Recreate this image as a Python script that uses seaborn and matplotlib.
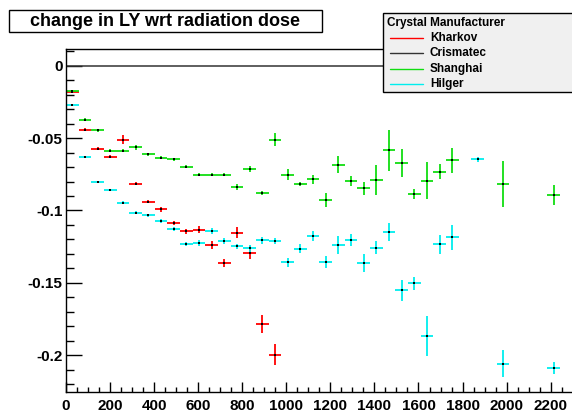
import numpy as np
import pandas as pd
import matplotlib
matplotlib.use("Agg")
import matplotlib.pyplot as plt
from matplotlib.patches import Rectangle
from matplotlib.lines import Line2D
from matplotlib.ticker import MultipleLocator, FixedLocator, FuncFormatter
import seaborn as sns

# ---------------- data ----------------
bin_width = 57.5
n_bins = 40
bin_centers = [bin_width * (i + 0.5) for i in range(n_bins)]

kharkov_bins = list(range(0, 17))
kharkov_vals = [-0.018, -0.0443, -0.0575, -0.0628, -0.051, -0.0816, -0.0938, -0.0993,
                -0.1085, -0.1145, -0.1133, -0.1239, -0.1363, -0.1152, -0.129, -0.1784, -0.1995]
kharkov_errs = [0.001, 0.001, 0.001, 0.001, 0.003, 0.001, 0.001, 0.002,
                0.0015, 0.002, 0.0023, 0.0027, 0.003, 0.0035, 0.0043, 0.0065, 0.0075]

crismatec_bins = list(range(0, 40))
crismatec_vals = [0.0] * 40
crismatec_errs = [0.0] * 40

shanghai_bins = list(range(0, 31)) + [34, 38]
shanghai_vals = [-0.0175, -0.0374, -0.0446, -0.0586, -0.0586, -0.0565, -0.0611, -0.0637,
                 -0.0648, -0.0697, -0.0754, -0.0754, -0.0754, -0.0839, -0.0712, -0.088,
                 -0.0512, -0.0752, -0.0816, -0.0784, -0.0929, -0.0683, -0.0798, -0.0846,
                 -0.0788, -0.0584, -0.0673, -0.0887, -0.0793, -0.0731, -0.0653,
                 -0.0818, -0.0892]
shanghai_errs = [0.001, 0.001, 0.001, 0.001, 0.001, 0.0018, 0.001, 0.001,
                 0.001, 0.001, 0.001, 0.001, 0.001, 0.002, 0.002, 0.0015,
                 0.0044, 0.0035, 0.0015, 0.003, 0.005, 0.006, 0.0035, 0.0045,
                 0.0105, 0.0143, 0.0097, 0.0037, 0.0131, 0.0053, 0.0085,
                 0.016, 0.007]

hilger_bins = list(range(0, 31)) + [32, 34, 38]
hilger_vals = [-0.0273, -0.0628, -0.0804, -0.086, -0.0947, -0.1014, -0.1034, -0.1073,
               -0.1128, -0.1232, -0.1223, -0.114, -0.1211, -0.1248, -0.1262, -0.1207,
               -0.1209, -0.1357, -0.1264, -0.1179, -0.1356, -0.1239, -0.1202, -0.1363,
               -0.1257, -0.1149, -0.1552, -0.1503, -0.1866, -0.1234, -0.1184,
               -0.0648, -0.2057, -0.2087]
hilger_errs = [0.0005, 0.0005, 0.0005, 0.0005, 0.001, 0.001, 0.001, 0.0015,
               0.0015, 0.0015, 0.002, 0.002, 0.002, 0.002, 0.0025, 0.0025,
               0.002, 0.003, 0.003, 0.0035, 0.004, 0.0064, 0.004, 0.0065,
               0.0045, 0.0065, 0.0075, 0.0046, 0.014, 0.0065, 0.0087,
               0.002, 0.0092, 0.0041]

series_names = ["Kharkov", "Crismatec", "Shanghai", "Hilger"]
series_colors = ["#ff0000", "#333333", "#11dd11", "#00eeee"]

x_ticks = list(range(0, 2201, 200))
y_ticks = [0, -0.05, -0.1, -0.15, -0.2]

# build long table
rows = []
for name, b, v, e in [("Kharkov", kharkov_bins, kharkov_vals, kharkov_errs),
                      ("Crismatec", crismatec_bins, crismatec_vals, crismatec_errs),
                      ("Shanghai", shanghai_bins, shanghai_vals, shanghai_errs),
                      ("Hilger", hilger_bins, hilger_vals, hilger_errs)]:
    for bi, vi, ei in zip(b, v, e):
        rows.append({"series": name, "dose": bin_centers[bi], "value": vi, "err": ei})
df = pd.DataFrame(rows)

# ---------------- plotting ----------------
sns.set_theme(style="white")
plt.rcParams['font.family'] = ['Liberation Sans', 'DejaVu Sans']
plt.rcParams['axes.unicode_minus'] = False

W, H = 572, 415
fig = plt.figure(figsize=(W / 100, H / 100), dpi=100)
fig.patch.set_facecolor("white")

def fx(px):
    return px / W

def fy(py):
    return 1 - py / H

left, right, top, bottom = 66, 572.7, 49.4, 392.3
ax = fig.add_axes([fx(left), fy(bottom), fx(right) - fx(left), fy(top) - fy(bottom)])
ax.set_facecolor("white")

for name, col in zip(series_names, series_colors):
    d = df[df.series == name]
    lw = 1.1 if name == "Crismatec" else 1.3
    ax.errorbar(d["dose"], d["value"], xerr=bin_width / 2, yerr=d["err"],
                fmt="none", ecolor=col, elinewidth=lw, capsize=0, zorder=2)

sns.scatterplot(data=df[df.series != "Crismatec"], x="dose", y="value", ax=ax,
                color="black", marker="s", s=1.2, linewidth=0, zorder=3, legend=False)

ax.set_xlim(0, 2300)
ax.set_ylim(-0.2255, 0.0112)
ax.set_xlabel("")
ax.set_ylabel("")

ax.xaxis.set_major_locator(FixedLocator(x_ticks))
ax.xaxis.set_minor_locator(MultipleLocator(50))
ax.yaxis.set_major_locator(FixedLocator(y_ticks))
ax.yaxis.set_minor_locator(MultipleLocator(0.01))
ax.yaxis.set_major_formatter(FuncFormatter(lambda v, p: "0" if abs(v) < 1e-9 else ("%g" % v)))

ax.tick_params(axis="both", which="both", direction="in", colors="black",
               labelsize=11, width=1.0)
ax.tick_params(axis="y", which="major", length=11.3, pad=2.5)
ax.tick_params(axis="y", which="minor", length=5.8)
ax.tick_params(axis="x", which="major", length=7.2, pad=4.5)
ax.tick_params(axis="x", which="minor", length=3.4)
ax.tick_params(left=True, bottom=True, top=False, right=False, which="both")
for lab in ax.get_xticklabels() + ax.get_yticklabels():
    lab.set_fontweight("bold")

for s in ["left", "bottom", "top"]:
    ax.spines[s].set_visible(True)
    ax.spines[s].set_color("black")
    ax.spines[s].set_linewidth(1.0)
ax.spines["right"].set_visible(False)
ax.grid(False)

# ---------------- title box ----------------
fig.add_artist(Rectangle((fx(9), fy(31.7)), fx(322) - fx(9), fy(10) - fy(31.7),
                         transform=fig.transFigure, facecolor="white",
                         edgecolor="black", linewidth=1.0, zorder=5))
fig.text(fx(165.5), fy(21), "change in LY wrt radiation dose", ha="center", va="center",
         fontsize=13, fontweight="bold", color="black", zorder=6)

# ---------------- legend box ----------------
fig.add_artist(Rectangle((fx(383.3), fy(91.7)), fx(600) - fx(383.3), fy(13.5) - fy(91.7),
                         transform=fig.transFigure, facecolor="#f0f0f0",
                         edgecolor="black", linewidth=1.0, zorder=5))
fig.text(fx(387.3), fy(22.7), "Crystal Manufacturer", ha="left", va="center",
         fontsize=8.5, fontweight="bold", color="black", zorder=6)
entry_y = [38.3, 53.3, 69, 84]
for name, col, yy in zip(series_names, series_colors, entry_y):
    fig.add_artist(Line2D([fx(390), fx(423.3)], [fy(yy), fy(yy)], transform=fig.transFigure,
                          color=col, linewidth=1.0, zorder=6))
    fig.text(fx(430), fy(yy), name, ha="left", va="center",
             fontsize=8.5, fontweight="bold", color="black", zorder=6)

fig.savefig("out.png", dpi=100, facecolor="white")
